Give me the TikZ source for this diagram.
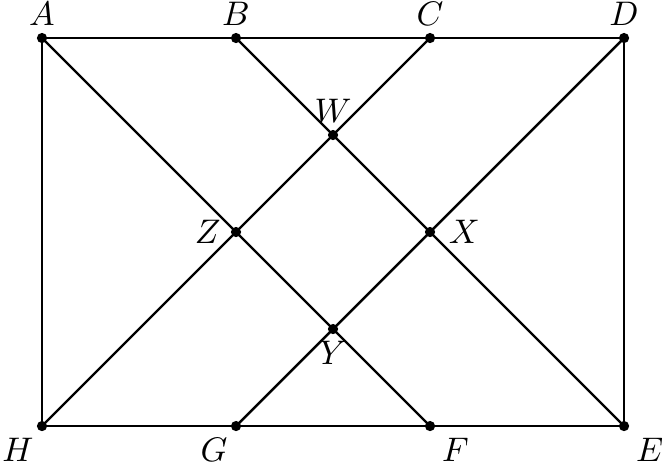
\documentclass[tikz,border=0pt]{standalone}
\begin{document}
\begin{tikzpicture}[x=1cm,y=1cm,
  seg/.style={line width=0.7pt},
  pt/.style={circle,fill=black,inner sep=0pt,minimum size=3pt}]
\useasboundingbox (-0.433,-0.392) rectangle (6.412,4.392);
\coordinate (A) at (0,4);
\coordinate (B) at (2,4);
\coordinate (C) at (4,4);
\coordinate (D) at (6,4);
\coordinate (E) at (6,0);
\coordinate (F) at (4,0);
\coordinate (G) at (2,0);
\coordinate (H) at (0,0);
\coordinate (W) at (3,3);
\coordinate (X) at (4,2);
\coordinate (Y) at (3,1);
\coordinate (Z) at (2,2);
\draw[seg] (A) -- (D) -- (E) -- (H) -- cycle;
\draw[seg] (A) -- (F);
\draw[seg] (B) -- (E);
\draw[seg] (C) -- (H);
\draw[seg] (D) -- (G);
\foreach \p in {A,B,C,D,E,F,G,H,W,X,Y,Z} \node[pt] (d\p) at (\p) {};
\node[above] (lA) at (A) {$A$};
\node[above] (lB) at (B) {$B$};
\node[above] (lC) at (C) {$C$};
\node[above] (lD) at (D) {$D$};
\node[below right] (lE) at (E) {$E$};
\node[below right] (lF) at (F) {$F$};
\node[below left,xshift=1pt] (lG) at (G) {$G$};
\node[below left,xshift=1pt] (lH) at (H) {$H$};
\node[above] (lW) at (W) {$W$};
\node[right=2pt] (lX) at (X) {$X$};
\node[below] (lY) at (Y) {$Y$};
\node[left=1pt] (lZ) at (Z) {$Z$};
\end{tikzpicture}
\end{document}
